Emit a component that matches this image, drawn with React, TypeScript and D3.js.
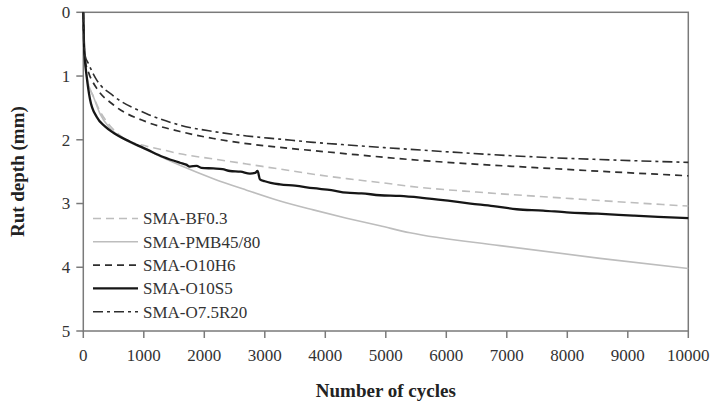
import React, { useEffect, useRef } from 'react';
import * as d3 from 'd3';

// cycles / rut depth (mm)
const bfCycles = [0, 10, 27, 55, 110, 165, 275, 441, 661, 1047, 1323, 1598, 2149, 2700, 3251, 3802, 4353, 4904, 5400, 6500, 7714, 8800, 10000];
const bfDepth = [0, 0.45, 0.66, 0.97, 1.2, 1.32, 1.55, 1.78, 1.97, 2.1, 2.16, 2.22, 2.3, 2.38, 2.46, 2.54, 2.61, 2.67, 2.73, 2.82, 2.9, 2.97, 3.04];

const pmbCycles = [0, 10, 27, 55, 110, 165, 275, 441, 661, 1047, 1598, 2149, 2700, 3251, 3802, 4353, 4904, 5400, 6887, 8540, 10000];
const pmbDepth = [0, 0.42, 0.64, 1.01, 1.2, 1.32, 1.59, 1.82, 1.98, 2.16, 2.4, 2.61, 2.79, 2.96, 3.1, 3.23, 3.35, 3.46, 3.66, 3.86, 4.02];

const h6Cycles = [0, 10, 30, 82, 220, 496, 1047, 1598, 2149, 2700, 3251, 3802, 4353, 5400, 7714, 10000];
const h6Depth = [0, 0.5, 0.75, 0.93, 1.19, 1.45, 1.72, 1.87, 1.98, 2.06, 2.12, 2.17, 2.22, 2.31, 2.45, 2.565];

const s5Cycles = [0, 10, 27, 55, 110, 220, 358, 496, 772, 1047, 1323, 1598, 1700, 1760, 1874, 1950, 2149, 2300, 2425, 2600, 2755, 2840, 2880, 2920, 3000, 3251, 3500, 3802, 4100, 4353, 4600, 4904, 5235, 5600, 6060, 6400, 6777, 7163, 7600, 7990, 8500, 9091, 9500, 10000];
const s5Depth = [0, 0.45, 0.75, 1.0, 1.36, 1.64, 1.79, 1.89, 2.03, 2.15, 2.27, 2.36, 2.39, 2.42, 2.41, 2.44, 2.45, 2.46, 2.49, 2.5, 2.53, 2.52, 2.49, 2.62, 2.65, 2.7, 2.72, 2.76, 2.79, 2.83, 2.84, 2.87, 2.88, 2.91, 2.96, 3.0, 3.04, 3.09, 3.11, 3.14, 3.16, 3.19, 3.21, 3.23];

const r20Cycles = [0, 10, 30, 82, 220, 496, 1047, 1598, 2149, 2700, 3251, 3802, 4353, 5400, 7714, 8540, 10000];
const r20Depth = [0, 0.45, 0.68, 0.8, 1.06, 1.31, 1.59, 1.77, 1.87, 1.94, 1.99, 2.04, 2.08, 2.15, 2.28, 2.31, 2.355];

const seriesNames = ['SMA-BF0.3', 'SMA-PMB45/80', 'SMA-O10H6', 'SMA-O10S5', 'SMA-O7.5R20'];
const xTicks = [0, 1000, 2000, 3000, 4000, 5000, 6000, 7000, 8000, 9000, 10000];
const yTicks = [0, 1, 2, 3, 4, 5];

const styles = [
  { color: '#bdbdbd', width: 1.6, dash: '8,5' },
  { color: '#bdbdbd', width: 1.6, dash: null },
  { color: '#2e2e2e', width: 1.7, dash: '7,5' },
  { color: '#161616', width: 2.3, dash: null },
  { color: '#2e2e2e', width: 1.6, dash: '10,4,3,4' },
];

const App: React.FC = () => {
  const svgRef = useRef<SVGSVGElement>(null);

  useEffect(() => {
    if (!svgRef.current) return;
    const svg = d3.select(svgRef.current);
    svg.selectAll('*').remove();

    const left = 83.3, right = 688.3, top = 12.3, bottom = 331;
    const x = d3.scaleLinear().domain([0, 10000]).range([left, right]);
    const y = d3.scaleLinear().domain([0, 5]).range([top, bottom]);
    const font = '"Liberation Serif", "Times New Roman", serif';
    const axisColor = '#7a7a7a';

    const all = [
      [bfCycles, bfDepth],
      [pmbCycles, pmbDepth],
      [h6Cycles, h6Depth],
      [s5Cycles, s5Depth],
      [r20Cycles, r20Depth],
    ];

    // frame
    svg.append('rect')
      .attr('x', left).attr('y', top)
      .attr('width', right - left).attr('height', bottom - top)
      .attr('fill', 'none').attr('stroke', axisColor).attr('stroke-width', 1.5);

    // x ticks
    const gx = svg.append('g');
    xTicks.forEach(t => {
      gx.append('line')
        .attr('x1', x(t)).attr('x2', x(t))
        .attr('y1', bottom).attr('y2', bottom + 7)
        .attr('stroke', axisColor).attr('stroke-width', 1.5);
      gx.append('text')
        .attr('x', x(t)).attr('y', bottom + 30)
        .attr('text-anchor', 'middle')
        .style('font-family', font).style('font-size', '17px')
        .style('fill', '#333')
        .text(t);
    });

    // y ticks
    const gy = svg.append('g');
    yTicks.forEach(t => {
      gy.append('line')
        .attr('x1', left - 7).attr('x2', left)
        .attr('y1', y(t)).attr('y2', y(t))
        .attr('stroke', axisColor).attr('stroke-width', 1.5);
      gy.append('text')
        .attr('x', left - 13).attr('y', y(t))
        .attr('dy', '0.35em')
        .attr('text-anchor', 'end')
        .style('font-family', font).style('font-size', '17px')
        .style('fill', '#333')
        .text(t);
    });

    // lines
    const line = d3.line<[number, number]>()
      .x(d => x(d[0]))
      .y(d => y(d[1]))
      .curve(d3.curveMonotoneX);

    all.forEach(([cs, ds], i) => {
      const pts = cs.map((c, k) => [c, ds[k]] as [number, number]);
      const st = styles[i];
      svg.append('path')
        .attr('d', line(pts) || '')
        .attr('fill', 'none')
        .attr('stroke', st.color)
        .attr('stroke-width', st.width)
        .attr('stroke-linejoin', 'round')
        .attr('stroke-dasharray', st.dash);
    });

    // legend
    const lg = svg.append('g');
    seriesNames.forEach((name, i) => {
      const ly = 218.5 + i * 23.3;
      const st = styles[i];
      lg.append('line')
        .attr('x1', 93).attr('x2', 138)
        .attr('y1', ly).attr('y2', ly)
        .attr('stroke', st.color)
        .attr('stroke-width', st.width)
        .attr('stroke-dasharray', st.dash);
      lg.append('text')
        .attr('x', 143).attr('y', ly)
        .attr('dy', '0.35em')
        .style('font-family', font).style('font-size', '17px')
        .style('fill', '#333')
        .text(name);
    });

    // titles
    svg.append('text')
      .attr('x', (left + right) / 2).attr('y', 397)
      .attr('text-anchor', 'middle')
      .style('font-family', font).style('font-size', '19px')
      .style('font-weight', 'bold').style('fill', '#222')
      .text('Number of cycles');

    svg.append('text')
      .attr('transform', `translate(24, ${(top + bottom) / 2}) rotate(-90)`)
      .attr('text-anchor', 'middle')
      .style('font-family', font).style('font-size', '19px')
      .style('font-weight', 'bold').style('fill', '#222')
      .text('Rut depth (mm)');
  }, []);

  return (
    <div style={{ position: 'absolute', left: 0, top: 0 }}>
      <svg ref={svgRef} width={714} height={406} style={{ display: 'block', background: '#fff' }} />
    </div>
  );
};

export default App;
